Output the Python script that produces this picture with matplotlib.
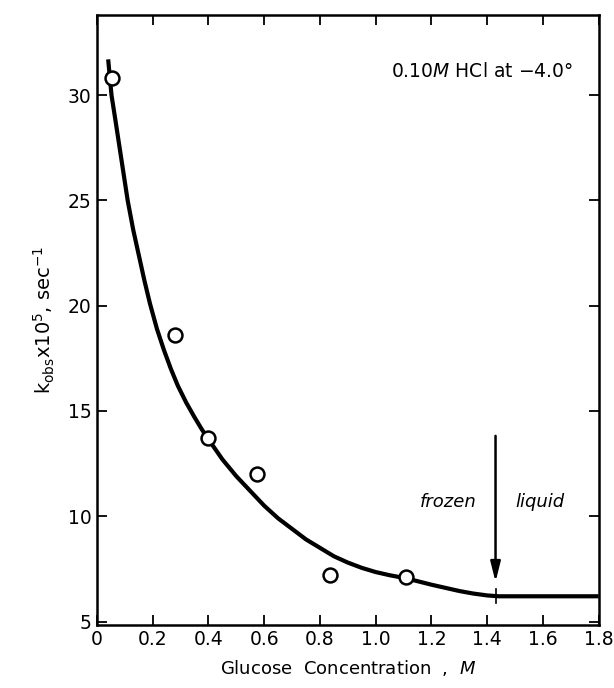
import matplotlib.pyplot as plt

# measured points (open circles)
conc = [0.055, 0.28, 0.40, 0.575, 0.835, 1.11]
kobs = [30.8, 18.6, 13.7, 12.0, 7.2, 7.1]

# smooth fitted curve
curve_x = [0.04, 0.052, 0.065, 0.08, 0.095, 0.11, 0.13, 0.15, 0.17, 0.19, 0.215,
           0.24, 0.265, 0.29, 0.32, 0.35, 0.375, 0.40, 0.45, 0.50, 0.55, 0.60,
           0.65, 0.70, 0.75, 0.80, 0.85, 0.90, 0.95, 1.00, 1.05, 1.11, 1.20,
           1.25, 1.30, 1.35, 1.40, 1.44, 1.80]
curve_y = [31.7, 30.0, 28.9, 27.6, 26.3, 25.0, 23.6, 22.4, 21.2, 20.1, 18.9,
           17.9, 17.0, 16.2, 15.4, 14.7, 14.15, 13.65, 12.7, 11.9, 11.2, 10.5,
           9.9, 9.4, 8.9, 8.5, 8.1, 7.8, 7.55, 7.35, 7.2, 7.05, 6.75,
           6.6, 6.45, 6.33, 6.24, 6.2, 6.2]

xticks = [0, 0.2, 0.4, 0.6, 0.8, 1.0, 1.2, 1.4, 1.6, 1.8]
xticklabels = ["0", "0.2", "0.4", "0.6", "0.8", "1.0", "1.2", "1.4", "1.6", "1.8"]
yticks = [5, 10, 15, 20, 25, 30]

transition = 1.43

plt.rcParams['font.family'] = ['DejaVu Sans']

fig = plt.figure(figsize=(6.14, 6.88), dpi=100)
ax = fig.add_axes([0.158, 0.092, 0.817, 0.886])

ax.plot(curve_x, curve_y, color="black", lw=3, solid_capstyle="butt",
        solid_joinstyle="round", zorder=2)
ax.plot(conc, kobs, "o", ms=10, mfc="white", mec="black", mew=1.8, zorder=3)

# frozen / liquid boundary
ax.annotate("", xy=(transition, 6.75), xytext=(transition, 13.95),
            arrowprops=dict(arrowstyle="-|>,head_length=1.2,head_width=0.3",
                            color="black", lw=1.8))
ax.plot([transition, transition], [5.9, 6.55], color="black", lw=1.2)
ax.text(1.26, 10.7, "frozen", style="italic", fontsize=13, ha="center", va="center")
ax.text(1.59, 10.7, "liquid", style="italic", fontsize=13, ha="center", va="center")

ax.text(1.38, 31.1, r"0.10$\it{M}$ HCl at $-$4.0°", fontsize=13.5, ha="center", va="center")

ax.set_xlim(0, 1.8)
ax.set_ylim(4.85, 33.8)
ax.set_xticks(xticks)
ax.set_xticklabels(xticklabels)
ax.set_yticks(yticks)
ax.tick_params(direction="in", length=7, width=1.3, labelsize=13.5,
               top=True, right=True, pad=4)
for s in ax.spines.values():
    s.set_linewidth(1.8)

ax.set_xlabel(r"Glucose  Concentration  ,  $\it{M}$", fontsize=13, labelpad=6)
ax.set_ylabel(r"k$_{\mathregular{obs}}$x10$^{5}$, sec$^{-1}$", fontsize=14, labelpad=8)

fig.savefig("out.png", dpi=100)
